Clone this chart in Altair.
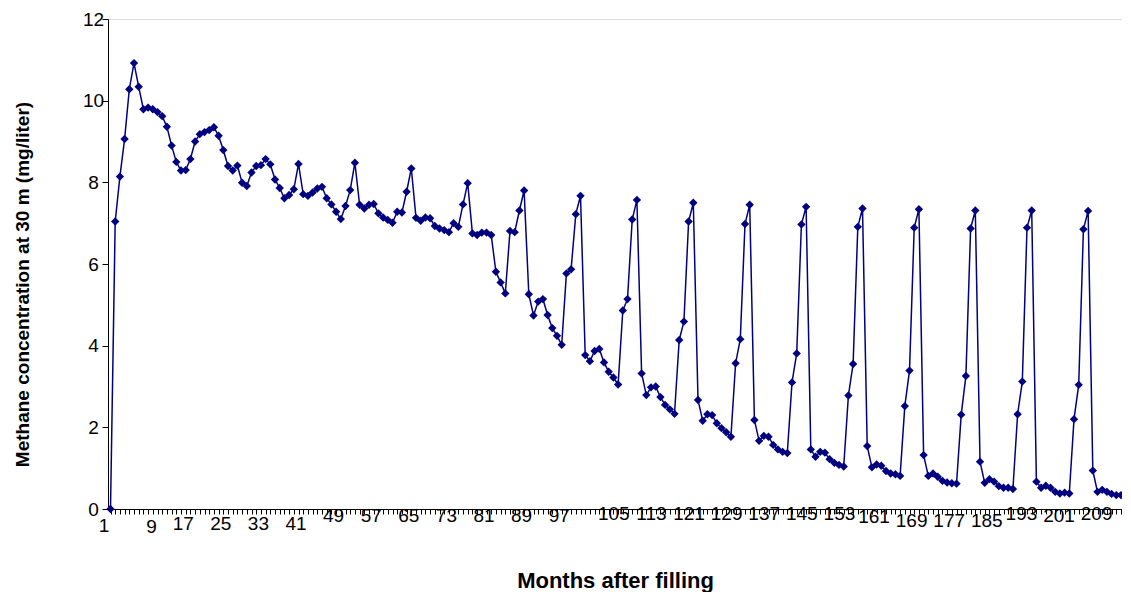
import altair as alt
import pandas as pd

months = list(range(1, 217))
methane = [
    0.00, 7.04, 8.14, 9.06, 10.28, 10.92, 10.34, 9.79, 9.83, 9.79,
    9.72, 9.62, 9.36, 8.90, 8.50, 8.29, 8.30, 8.57, 9.00, 9.18,
    9.23, 9.28, 9.35, 9.14, 8.79, 8.40, 8.29, 8.41, 7.99, 7.91,
    8.24, 8.40, 8.42, 8.57, 8.44, 8.07, 7.86, 7.61, 7.69, 7.83,
    8.45, 7.71, 7.67, 7.75, 7.85, 7.89, 7.61, 7.46, 7.28, 7.10,
    7.42, 7.81, 8.48, 7.45, 7.36, 7.45, 7.47, 7.24, 7.14, 7.08,
    7.01, 7.28, 7.26, 7.77, 8.34, 7.13, 7.06, 7.14, 7.12, 6.93,
    6.87, 6.83, 6.78, 7.00, 6.91, 7.46, 7.98, 6.75, 6.71, 6.77,
    6.77, 6.71, 5.81, 5.55, 5.28, 6.81, 6.78, 7.31, 7.80, 5.26,
    4.74, 5.08, 5.14, 4.75, 4.43, 4.24, 4.02, 5.77, 5.87, 7.22,
    7.67, 3.77, 3.62, 3.87, 3.92, 3.59, 3.36, 3.22, 3.05, 4.86,
    5.14, 7.09, 7.57, 3.32, 2.79, 2.98, 3.00, 2.74, 2.55, 2.44,
    2.33, 4.14, 4.59, 7.04, 7.50, 2.67, 2.16, 2.32, 2.30, 2.10,
    1.98, 1.88, 1.77, 3.57, 4.16, 6.98, 7.45, 2.18, 1.67, 1.79,
    1.77, 1.57, 1.46, 1.40, 1.37, 3.10, 3.81, 6.97, 7.40, 1.46,
    1.28, 1.40, 1.38, 1.22, 1.13, 1.08, 1.04, 2.78, 3.55, 6.91,
    7.36, 1.54, 1.02, 1.09, 1.06, 0.93, 0.87, 0.85, 0.81, 2.52,
    3.39, 6.89, 7.34, 1.32, 0.81, 0.87, 0.79, 0.69, 0.65, 0.63,
    0.62, 2.31, 3.26, 6.87, 7.31, 1.16, 0.64, 0.73, 0.67, 0.56,
    0.52, 0.52, 0.49, 2.32, 3.12, 6.89, 7.31, 0.67, 0.52, 0.57,
    0.52, 0.42, 0.38, 0.40, 0.38, 2.20, 3.04, 6.85, 7.30, 0.94,
    0.42, 0.47, 0.42, 0.37, 0.34, 0.34,
]
y_ticks = [0, 2, 4, 6, 8, 10, 12]

df = pd.DataFrame({"month": months, "methane": methane})

FONT = "Liberation Sans"
NAVY = "#000080"

label_expr = "(datum.value - 1) % 8 == 0 ? datum.value : ''"
# Excel-style staggered category labels
label_pad = {
    "condition": [
        {"test": "datum.value == 1", "value": 11},
        {"test": "datum.value == 9", "value": 12},
        {"test": "datum.value < 45", "value": 9},
        {"test": "datum.value < 100", "value": 1},
        {"test": "datum.value < 158", "value": -1},
        {"test": "datum.value < 165", "value": 2.5},
        {"test": "datum.value < 190", "value": 6.5},
        {"test": "datum.value > 197 && datum.value < 205", "value": 1},
    ],
    "value": -1,
}
label_off = {
    "condition": [
        {"test": "datum.value == 1", "value": -7},
        {"test": "datum.value == 9", "value": 3},
        {"test": "datum.value < 100", "value": -3},
        {"test": "datum.value < 158", "value": 14},
        {"test": "datum.value < 190", "value": 11},
    ],
    "value": 8,
}

x_enc = alt.X(
    "month:Q",
    scale=alt.Scale(domain=[0.468, 216.21], nice=False, zero=False),
    axis=alt.Axis(
        title="Months after filling",
        values=months,
        tickCount=400,
        labelExpr=label_expr,
        labelOverlap=False,
        labelFlush=False,
        labelBound=False,
        labelBaseline="middle",
        labelPadding=label_pad,
        labelOffset=label_off,
        labelFont=FONT,
        labelFontSize=19,
        labelColor="black",
        tickSize=5,
        tickColor="black",
        domainColor="black",
        grid=False,
        titleFont=FONT,
        titleFontSize=22,
        titleFontWeight="bold",
        titleColor="black",
        titleBaseline="middle",
        titleY=71,
    ),
)
y_enc = alt.Y(
    "methane:Q",
    scale=alt.Scale(domain=[0, 12], nice=False),
    axis=alt.Axis(
        title="Methane concentration at 30 m (mg/liter)",
        values=y_ticks,
        format="d",
        labelFont=FONT,
        labelFontSize=19,
        labelColor="black",
        labelAlign="center",
        labelPadding=9,
        tickSize=6,
        tickColor="black",
        domainColor="black",
        grid=False,
        titleFont=FONT,
        titleFontSize=19,
        titleFontWeight="bold",
        titleColor="black",
        titleBaseline="middle",
        titleX=-86,
        titleY=265,
    ),
)

line = alt.Chart(df).mark_line(color=NAVY, strokeWidth=1.5).encode(x=x_enc, y=y_enc)
pts = alt.Chart(df).mark_point(
    shape="diamond", filled=True, color=NAVY, size=70, opacity=1
).encode(x="month:Q", y="methane:Q")

chart = (
    alt.layer(line, pts)
    .properties(
        width=1014,
        height=490,
        autosize=alt.AutoSizeParams(type="none"),
        padding={"left": 100, "top": 11, "right": 0, "bottom": 83},
    )
    .configure_view(stroke=None)
    .configure(background="white")
)

chart.save("out.html", embed_options={"renderer": "svg", "actions": False})
